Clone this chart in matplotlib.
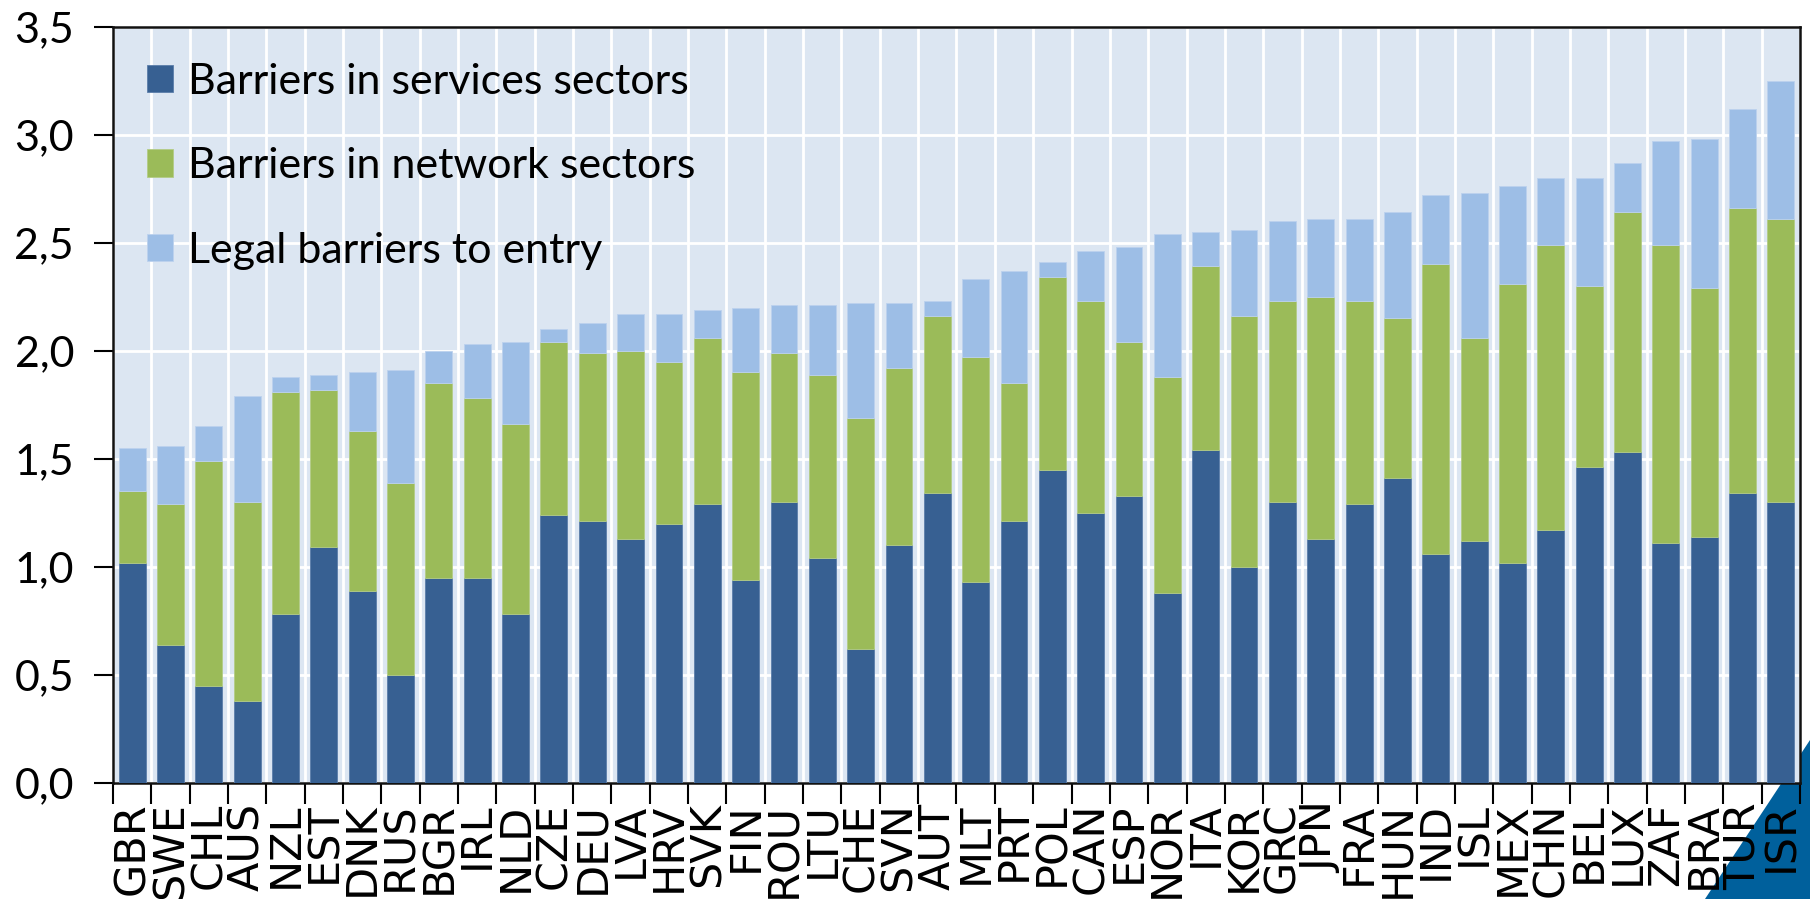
import numpy as np
import matplotlib
matplotlib.use("Agg")
import matplotlib.pyplot as plt
from matplotlib.patches import Polygon

countries = ["GBR", "SWE", "CHL", "AUS", "NZL", "EST", "DNK", "RUS", "BGR", "IRL", "NLD",
             "CZE", "DEU", "LVA", "HRV", "SVK", "FIN", "ROU", "LTU", "CHE", "SVN", "AUT",
             "MLT", "PRT", "POL", "CAN", "ESP", "NOR", "ITA", "KOR", "GRC", "JPN", "FRA",
             "HUN", "IND", "ISL", "MEX", "CHN", "BEL", "LUX", "ZAF", "BRA", "TUR", "ISR"]

services = [1.02, 0.64, 0.45, 0.38, 0.78, 1.09, 0.89, 0.50, 0.95, 0.95, 0.78,
            1.24, 1.21, 1.13, 1.20, 1.29, 0.94, 1.30, 1.04, 0.62, 1.10, 1.34,
            0.93, 1.21, 1.45, 1.25, 1.33, 0.88, 1.54, 1.00, 1.30, 1.13, 1.29,
            1.41, 1.06, 1.12, 1.02, 1.17, 1.46, 1.53, 1.11, 1.14, 1.34, 1.30]
network = [0.33, 0.65, 1.04, 0.92, 1.03, 0.73, 0.74, 0.89, 0.90, 0.83, 0.88,
           0.80, 0.78, 0.87, 0.75, 0.77, 0.96, 0.69, 0.85, 1.07, 0.82, 0.82,
           1.04, 0.64, 0.89, 0.98, 0.71, 1.00, 0.85, 1.16, 0.93, 1.12, 0.94,
           0.74, 1.34, 0.94, 1.29, 1.32, 0.84, 1.11, 1.38, 1.15, 1.32, 1.31]
legal = [0.20, 0.27, 0.16, 0.49, 0.07, 0.07, 0.27, 0.52, 0.15, 0.25, 0.38,
         0.06, 0.14, 0.17, 0.22, 0.13, 0.30, 0.22, 0.32, 0.53, 0.30, 0.07,
         0.36, 0.52, 0.07, 0.23, 0.44, 0.66, 0.16, 0.40, 0.37, 0.36, 0.38,
         0.49, 0.32, 0.67, 0.45, 0.31, 0.50, 0.23, 0.48, 0.69, 0.46, 0.64]

series_labels = ["Barriers in services sectors", "Barriers in network sectors",
                 "Legal barriers to entry"]
colors = ["#376092", "#9BBB59", "#9DBEE6"]
yticks = [0.0, 0.5, 1.0, 1.5, 2.0, 2.5, 3.0, 3.5]

fig = plt.figure(figsize=(18.1, 8.99), dpi=100)
ax = fig.add_axes([0.0624, 0.129, 0.9321, 0.8415])
ax.set_facecolor("#DCE6F2")

x = np.arange(len(countries))
s = np.array(services)
n = np.array(network)
l = np.array(legal)
ax.bar(x, s, 0.7, color=colors[0], edgecolor="#5B7DAA", linewidth=0.6,
       label=series_labels[0], zorder=3)
ax.bar(x, n, 0.7, bottom=s, color=colors[1], edgecolor="#B3CC86", linewidth=0.6,
       label=series_labels[1], zorder=3)
ax.bar(x, l, 0.7, bottom=s + n, color=colors[2], edgecolor="#BCD2EE", linewidth=0.6,
       label=series_labels[2], zorder=3)

ax.set_xlim(-0.5, len(countries) - 0.5)
ax.set_ylim(0, 3.5)

# category labels at bar centres, tick marks at category boundaries
ax.set_xticks(x)
ax.set_xticklabels(countries, rotation=90, fontsize=31, family="DejaVu Sans",
                   va="top")
ax.set_xticks(np.arange(len(countries) + 1) - 0.5, minor=True)
ax.tick_params(axis="x", which="major", length=0, pad=14)
ax.tick_params(axis="x", which="minor", length=15, width=1.5, direction="out")

ax.set_yticks(yticks)
ax.set_yticklabels([f"{v:.1f}".replace(".", ",") for v in yticks],
                   fontsize=31, family="Lato")
ax.tick_params(axis="y", length=14, width=1.5, direction="out", pad=14)

ax.grid(axis="y", which="major", color="white", linewidth=2, zorder=1)
ax.grid(axis="x", which="minor", color="white", linewidth=2, zorder=1)
ax.grid(axis="x", which="major", visible=False)
ax.set_axisbelow(True)

for sp in ax.spines.values():
    sp.set_color("#111111")
    sp.set_linewidth(1.8)

leg = ax.legend(loc="upper left", bbox_to_anchor=(0.02, 0.952), frameon=False,
                prop={"family": "Lato", "size": 31}, handlelength=0.6,
                handleheight=0.6, handletextpad=0.35, labelspacing=1.08,
                borderaxespad=0, borderpad=0)

# corner decoration
tri = Polygon([[1.0, 1 - 740 / 899], [1.0, 0.0], [1705 / 1810, 0.0]],
              closed=True, transform=fig.transFigure, facecolor="#00609C",
              edgecolor="none", zorder=-1)
fig.patches.append(tri)

fig.savefig("out.png", dpi=100)
